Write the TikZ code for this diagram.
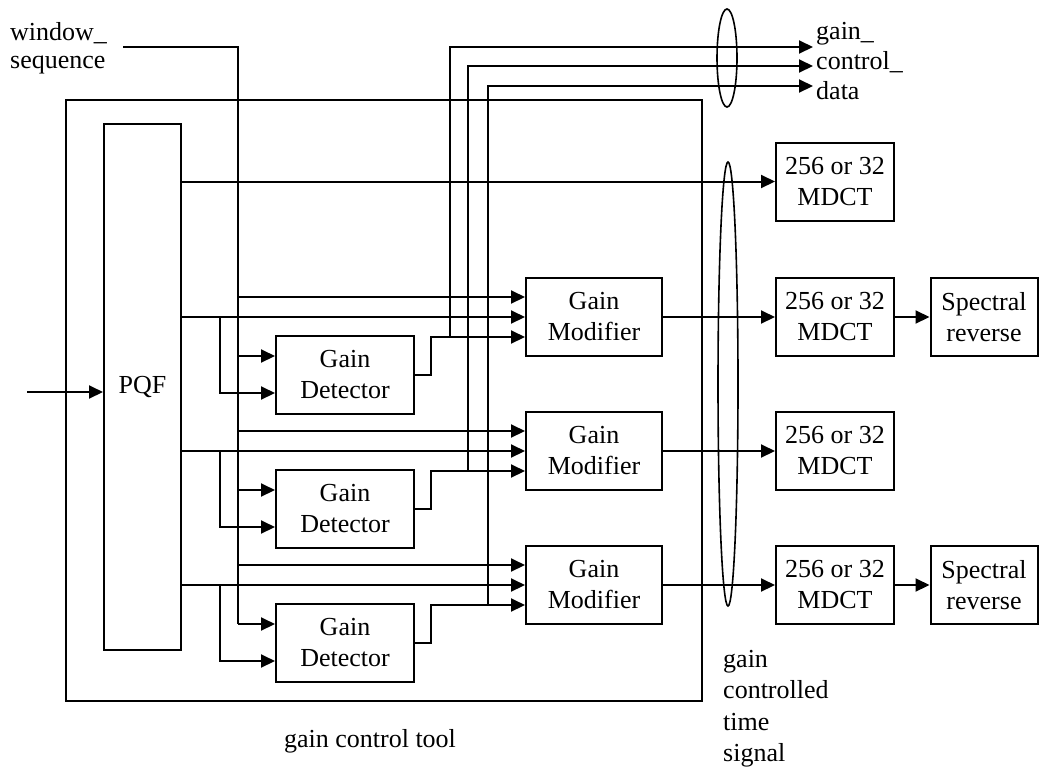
\documentclass[tikz,border=0pt]{standalone}
\usepackage{fontspec}
\setmainfont{Liberation Serif}
\usetikzlibrary{arrows.meta,calc,shapes.geometric}
\begin{document}
\begin{tikzpicture}[x=1pt,y=-1pt,
  every node/.style={font=\fontsize{26}{31}\selectfont},
  box/.style={draw, line width=2pt, align=center, inner sep=0pt},
  ln/.style={line width=2pt},
  arr/.style={line width=2pt, -{Triangle[length=14pt,width=13pt]}},
  oval/.style={draw, line width=1.6pt, ellipse, inner sep=0pt},
  lbl/.style={inner sep=0pt, align=left},
  ]
\useasboundingbox (0,0) rectangle (1040,769);

% boxes
\node[box, minimum width=636pt, minimum height=601pt] (tool) at (384,400.5) {};
\node[box, minimum width=77pt, minimum height=526pt] (pqf) at (142.5,387) {PQF};

\node[box, minimum width=136pt, minimum height=78pt] (gm1) at (594,317) {Gain\\Modifier};
\node[box, minimum width=136pt, minimum height=78pt] (gm2) at (594,451) {Gain\\Modifier};
\node[box, minimum width=136pt, minimum height=78pt] (gm3) at (594,585) {Gain\\Modifier};

\node[box, minimum width=138pt, minimum height=78pt] (gd1) at (345,375) {Gain\\Detector};
\node[box, minimum width=138pt, minimum height=78pt] (gd2) at (345,509) {Gain\\Detector};
\node[box, minimum width=138pt, minimum height=78pt] (gd3) at (345,643) {Gain\\Detector};

\node[box, minimum width=118pt, minimum height=78pt] (mdct1) at (835,181.5) {256 or 32\\MDCT};
\node[box, minimum width=118pt, minimum height=78pt] (mdct2) at (835,317) {256 or 32\\MDCT};
\node[box, minimum width=118pt, minimum height=78pt] (mdct3) at (835,451) {256 or 32\\MDCT};
\node[box, minimum width=118pt, minimum height=78pt] (mdct4) at (835,585) {256 or 32\\MDCT};

\node[box, minimum width=107pt, minimum height=78pt] (sp1) at (984,317) {Spectral\\reverse};
\node[box, minimum width=107pt, minimum height=78pt] (sp2) at (984,585) {Spectral\\reverse};

% ellipses
\node[oval, minimum width=20pt, minimum height=98pt] (e1) at (727,58) {};
\node[oval, minimum width=20pt, minimum height=444pt] (e2) at (728,384) {};

% labels
\node[lbl, anchor=north west, font=\fontsize{26}{28}\selectfont] (wl) at (10,22) {window\_\\sequence};
\node[lbl, anchor=north west, font=\fontsize{26}{30}\selectfont] (gcd) at (816,22) {gain\_\\control\_\\data};
\node[inner sep=0pt, anchor=base] (gct) at (370,747) {gain control tool};
\node[lbl, anchor=north west, font=\fontsize{26}{31.3}\selectfont] (gcts) at (723,650) {gain\\controlled\\time\\signal};

% helper coordinates
\coordinate (ws) at (123,47);
\coordinate (wsx) at (238,0);
\coordinate (brx) at (220,0);
\coordinate (in) at (27,392);

% input to PQF
\draw[arr] (in) -- (in -| pqf.west);
% PQF to first MDCT
\draw[arr] (mdct1.west -| pqf.east) -- (mdct1.west);

% window_sequence trunk
\coordinate (wsend) at ($(gd3.west)+(0,-19)$);
\draw[ln] (ws) -| (wsend -| wsx);

\foreach \k/\jx/\oy in {1/450/47, 2/468/66, 3/488/86} {
  \coordinate (gma) at ($(gm\k.west)+(0,-20)$);
  \coordinate (gmb) at (gm\k.west);
  \coordinate (gmc) at ($(gm\k.west)+(0,20)$);
  \coordinate (gda) at ($(gd\k.west)+(0,-19)$);
  \coordinate (gdb) at ($(gd\k.west)+(0,18)$);
  \coordinate (jx) at (\jx,0);
  \coordinate (o) at (813,\oy);
  \draw[arr] (gma -| wsx) -- (gma);
  \draw[arr] (gda -| wsx) -- (gda);
  \draw[arr] (gmb -| pqf.east) -- (gmb);
  \draw[arr] (gmb -| brx) |- (gdb);
  \draw[arr] (gd\k.east) -- ++(16,0) |- (gmc);
  \draw[arr] (gmc -| jx) |- (o);
}

% modifier outputs
\draw[arr] (gm1.east) -- (mdct2.west);
\draw[arr] (gm2.east) -- (mdct3.west);
\draw[arr] (gm3.east) -- (mdct4.west);
\draw[arr] (mdct2.east) -- (sp1.west);
\draw[arr] (mdct4.east) -- (sp2.west);
\end{tikzpicture}
\end{document}
